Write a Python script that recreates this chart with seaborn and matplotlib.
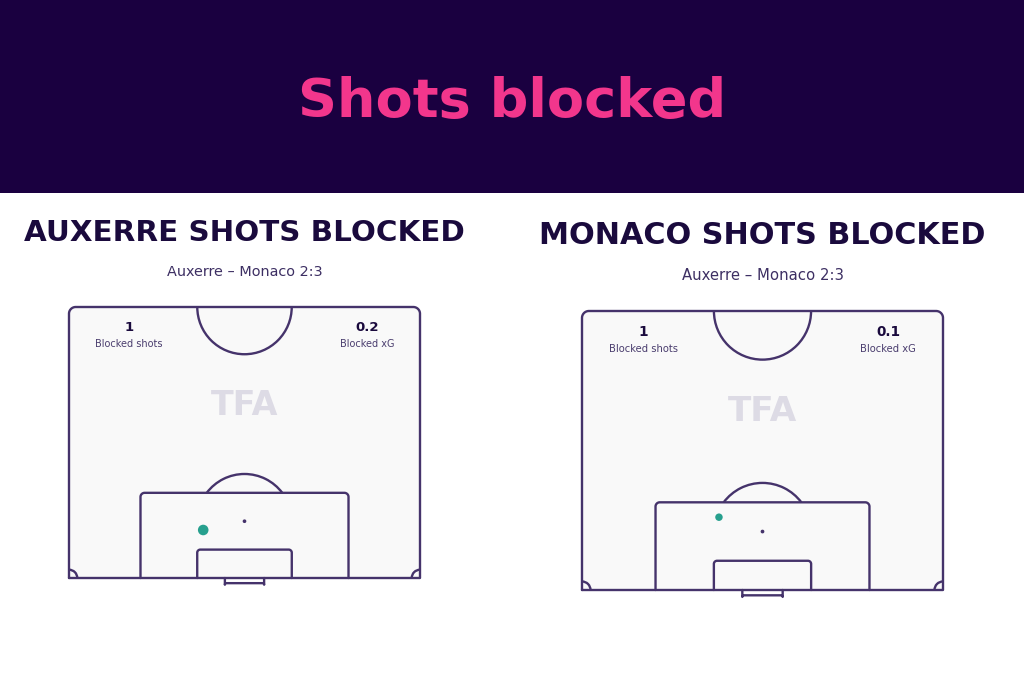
import matplotlib
matplotlib.use("Agg")
import matplotlib.pyplot as plt
import seaborn as sns
import pandas as pd
import numpy as np
from matplotlib.patches import Rectangle, Arc, Circle

# ---------------- data ----------------
teams = ["Auxerre", "Monaco"]
match_label = "Auxerre – Monaco 2:3"
blocked_shots = [1, 1]
blocked_xg = [0.2, 0.1]
# shot locations in metres: x across pitch (0-68), y = distance from goal line
shot_x = [26.0, 25.8]
shot_y = [9.3, 13.7]
shot_xg = [0.2, 0.1]

# ---------------- style ----------------
sns.set_theme(style="white")
plt.rcParams["font.family"] = ["DejaVu Sans"]
HEADER = "#1a0040"
PINK = "#f2368c"
NAVY = "#1a0a3d"
LINE = "#45336b"
PITCH = "#f9f9f9"
TEAL = "#27a08e"
W, H = 1024, 683

fig = plt.figure(figsize=(W / 100, H / 100), dpi=100)
fig.patch.set_facecolor("white")

# header band
fig.add_artist(Rectangle((0, 1 - 193 / H), 1, 193 / H, transform=fig.transFigure,
                         facecolor=HEADER, edgecolor="none", zorder=0))
fig.text(512 / W, 1 - 102 / H, "Shots blocked", color=PINK, fontsize=39,
         fontweight="bold", ha="center", va="center")

# pitch pixel boxes (x0, x1, ytop, ybottom) and text centers
boxes = [(69, 420, 307, 578), (582, 943, 311, 590)]
title_y = [233, 235]
sub_y = [272, 275]

PL, PW = 52.5, 68.0
xm0, xm1, ym0, ym1 = -2.0, 70.0, -3.0, 54.5


def top_rounded(x, y0, w, h, r, n=20):
    """Open outline: up the left side, rounded top corners, down the right side."""
    xs, ys = [x], [y0]
    t = np.linspace(np.pi, np.pi / 2, n)
    xs += list(x + r + r * np.cos(t)); ys += list(y0 + h - r + r * np.sin(t))
    t = np.linspace(np.pi / 2, 0, n)
    xs += list(x + w - r + r * np.cos(t)); ys += list(y0 + h - r + r * np.sin(t))
    xs.append(x + w); ys.append(y0)
    return xs, ys


def draw_pitch(ax, lw):
    kw = dict(color=LINE, lw=lw, zorder=2, solid_capstyle="round", solid_joinstyle="round")
    xs, ys = top_rounded(0, 0, PW, PL, 1.3)
    ax.fill(xs, ys, color=PITCH, zorder=1, lw=0)
    ax.plot(xs + [0], ys + [0], **kw)
    ax.add_patch(Arc((34, PL), 18.3, 18.3, theta1=180, theta2=360, color=LINE, lw=lw, zorder=2))
    ax.plot(*top_rounded(13.85, 0, 40.3, 16.5, 0.8), **kw)
    ax.add_patch(Arc((34, 11), 18.3, 18.3, theta1=36.9, theta2=143.1, color=LINE, lw=lw, zorder=2))
    ax.plot(*top_rounded(24.84, 0, 18.32, 5.5, 0.6), **kw)
    ax.plot(*top_rounded(30.2, 0, 7.6, -1.0, 0.3), **kw)
    ax.add_patch(Arc((0, 0), 3.2, 3.2, theta1=0, theta2=90, color=LINE, lw=lw, zorder=2))
    ax.add_patch(Arc((PW, 0), 3.2, 3.2, theta1=90, theta2=180, color=LINE, lw=lw, zorder=2))
    ax.add_patch(Circle((34, 11), 0.22, color=LINE, zorder=2))


for i, team in enumerate(teams):
    x0, x1, yt, yb = boxes[i]
    sc = (x1 - x0) / (boxes[0][1] - boxes[0][0])
    sx = (x1 - x0) / PW
    sy = (yb - yt) / PL
    left = x0 + xm0 * sx
    right = x0 + xm1 * sx
    bottom = yb - ym0 * sy
    top = yb - ym1 * sy
    ax = fig.add_axes([left / W, 1 - bottom / H, (right - left) / W, (bottom - top) / H])
    draw_pitch(ax, 1.7)
    ax.text(34, 33.5, "TFA", color="#dddbe5", fontsize=24 * sc, fontweight="bold",
            ha="center", va="center", zorder=1.5)

    df = pd.DataFrame({"x": [shot_x[i]], "y": [shot_y[i]], "xg": [shot_xg[i]]})
    sns.scatterplot(data=df, x="x", y="y", s=df["xg"].iloc[0] * 290, color=TEAL,
                    edgecolor="none", ax=ax, zorder=5, legend=False)
    ax.set_xlim(xm0, xm1)
    ax.set_ylim(ym0, ym1)
    ax.axis("off")

    # stats
    ax.text(11.6, 48.6, f"{blocked_shots[i]}", color=NAVY, fontsize=9.5 * sc, fontweight="bold",
            ha="center", va="center", zorder=3)
    ax.text(11.6, 45.3, "Blocked shots", color="#4a3d6e", fontsize=7 * sc, ha="center",
            va="center", zorder=3)
    ax.text(57.7, 48.6, f"{blocked_xg[i]:.1f}", color=NAVY, fontsize=9.5 * sc, fontweight="bold",
            ha="center", va="center", zorder=3)
    ax.text(57.7, 45.3, "Blocked xG", color="#4a3d6e", fontsize=7 * sc, ha="center",
            va="center", zorder=3)

    cx = (x0 + x1) / 2
    fig.text(cx / W, 1 - title_y[i] / H, f"{team.upper()} SHOTS BLOCKED", color=NAVY,
             fontsize=21.2 * sc, fontweight="bold", ha="center", va="center")
    fig.text(cx / W, 1 - sub_y[i] / H, match_label, color="#3d2f63", fontsize=10.4 * sc,
             ha="center", va="center")

fig.savefig("out.png", dpi=100, facecolor=fig.get_facecolor())
